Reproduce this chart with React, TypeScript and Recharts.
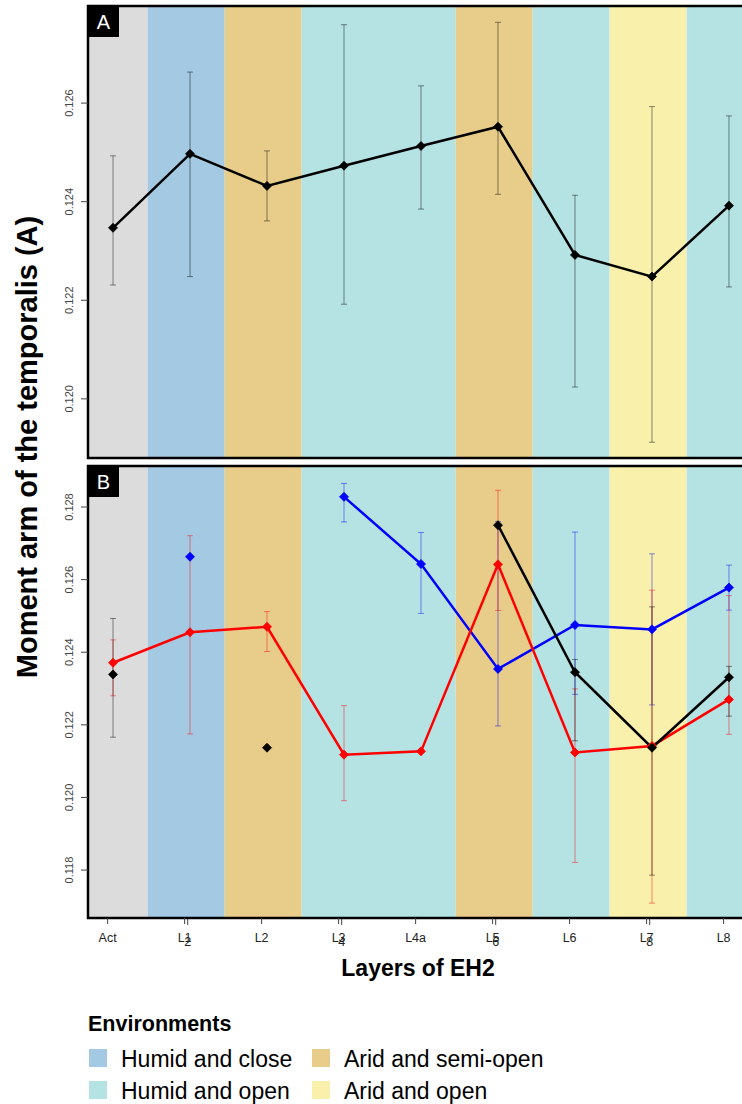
import React from "react";
import { ComposedChart, Line, XAxis, YAxis, ReferenceArea, ErrorBar } from "recharts";

const FONT = "'Liberation Sans', Arial, Helvetica, sans-serif";

const layers = ["Act", "L1", "L2", "L3", "L4a", "L5", "L6", "L7", "L8"];
// the second set of tick numbers printed over the odd layers
const extraTickLabels = ["2", "4", "6", "8"];
const extraTickSlots = [1, 3, 5, 7];

// environment of each layer (background bands)
const layerEnv = ["none", "humidClose", "aridSemi", "humidOpen", "humidOpen", "aridSemi", "humidOpen", "aridOpen", "humidOpen"];

// Panel A : whole sample
const meanA = [0.12347, 0.12497, 0.12432, 0.12473, 0.12513, 0.12552, 0.12292, 0.12248, 0.12392];
const lowA = [0.12231, 0.12248, 0.12361, 0.12192, 0.12385, 0.12415, 0.12024, 0.11912, 0.12227];
const highA = [0.12493, 0.12663, 0.12503, 0.12759, 0.12635, 0.12764, 0.12413, 0.12593, 0.12574];

// Panel B : three groups
const redMean = [0.12371, 0.12455, 0.1247, 0.12118, 0.12127, 0.12642, 0.12124, 0.12142, 0.1227];
const redLow = [0.1228, 0.12175, 0.12402, 0.11991, null, 0.12515, 0.11821, 0.11709, 0.12174];
const redHigh = [0.12434, 0.12721, 0.12512, 0.12253, null, 0.12846, 0.12299, 0.12571, 0.12556];

const blueMean = [null, 0.12663, null, 0.12828, 0.12643, 0.12354, 0.12475, 0.12463, 0.12578];
const blueLow = [null, null, null, 0.12759, 0.12507, 0.12197, 0.12284, 0.12255, 0.12516];
const blueHigh = [null, null, null, 0.12865, 0.1273, 0.1276, 0.12731, 0.12671, 0.1264];

const blackMean = [0.12339, null, 0.12137, null, null, 0.1275, 0.12345, 0.12137, 0.12331];
const blackLow = [0.12166, null, null, null, null, null, 0.12156, 0.11786, 0.12224];
const blackHigh = [0.12493, null, null, null, null, null, 0.1238, 0.12525, 0.12361];

const ticksA = [0.12, 0.122, 0.124, 0.126];
const ticksB = [0.118, 0.12, 0.122, 0.124, 0.126, 0.128];

const X_MIN = -0.325;
const X_MAX = 8.247;
const domainA: [number, number] = [0.1188, 0.12797];
const domainB: [number, number] = [0.11668, 0.12913];

const envColors: Record<string, string> = {
  none: "#DCDCDC",
  humidClose: "#A4C9E3",
  aridSemi: "#E8CD8A",
  humidOpen: "#B5E2E3",
  aridOpen: "#F8F0AB",
};

const legendItems = [
  { key: "humidClose", label: "Humid and close" },
  { key: "aridSemi", label: "Arid and semi-open" },
  { key: "humidOpen", label: "Humid and open" },
  { key: "aridOpen", label: "Arid and open" },
];

function errOf(mean: number | null, low: number | null, high: number | null) {
  if (mean == null || low == null || high == null) return null;
  return [mean - low, high - mean];
}

const rowsA = layers.map((name, i) => ({
  x: i,
  name,
  mean: meanA[i],
  err: errOf(meanA[i], lowA[i], highA[i]),
}));

const rowsB = layers.map((name, i) => ({
  x: i,
  name,
  red: redMean[i],
  redErr: errOf(redMean[i], redLow[i], redHigh[i]),
  blue: blueMean[i],
  blueErr: errOf(blueMean[i], blueLow[i], blueHigh[i]),
  black: blackMean[i],
  blackErr: errOf(blackMean[i], blackLow[i], blackHigh[i]),
}));

// merge neighbouring layers with the same environment into one band
const bands: { env: string; from: number; to: number }[] = [];
layerEnv.forEach((env, i) => {
  const last = bands[bands.length - 1];
  if (last && last.env === env) last.to = i + 0.45;
  else bands.push({ env, from: Math.max(X_MIN, i - 0.55), to: i + 0.45 });
});
bands[bands.length - 1].to = X_MAX;

const diamondDot = (color: string, r: number) => (props: any) => {
  const { cx, cy, value, index } = props;
  if (cx == null || cy == null || value == null) return <g key={`d-${index}`} />;
  return (
    <polygon
      key={`d-${index}`}
      points={`${cx},${cy - r} ${cx + r},${cy} ${cx},${cy + r} ${cx - r},${cy}`}
      fill={color}
      stroke={color}
      strokeWidth={0.8}
    />
  );
};

const YTick = (props: any) => {
  const { x, y, payload } = props;
  const tx = x - 6;
  return (
    <text x={tx} y={y} transform={`rotate(-90 ${tx} ${y})`} textAnchor="middle" fontSize={11} fill="#444" fontFamily={FONT}>
      {payload.value.toFixed(3)}
    </text>
  );
};

const XTick = (props: any) => {
  const { x, y, payload } = props;
  return (
    <text x={x} y={y + 16} textAnchor="middle" fontSize={12.5} fill="#222" fontFamily={FONT}>
      {layers[Math.round(payload.value)]}
    </text>
  );
};

const ExtraTick = (props: any) => {
  const { x, y, payload } = props;
  const k = extraTickSlots.indexOf(Math.round(payload.value));
  return (
    <text x={x} y={y + 19} textAnchor="middle" fontSize={12.5} fill="#222" fontFamily={FONT}>
      {extraTickLabels[k]}
    </text>
  );
};

function backgroundBands(domain: [number, number]) {
  return bands.map((b, i) => (
    <ReferenceArea
      key={`band-${i}`}
      x1={b.from}
      x2={b.to}
      y1={domain[0]}
      y2={domain[1]}
      fill={envColors[b.env]}
      fillOpacity={1}
      stroke="none"
      ifOverflow="visible"
    />
  ));
}

function frame(domain: [number, number]) {
  return (
    <ReferenceArea
      x1={X_MIN}
      x2={X_MAX}
      y1={domain[0]}
      y2={domain[1]}
      fill="none"
      stroke="#000"
      strokeWidth={2.5}
      ifOverflow="visible"
    />
  );
}

export default function App() {
  return (
    <div
      style={{
        position: "absolute",
        left: 0,
        top: 0,
        width: 742,
        height: 1104,
        overflow: "hidden",
        background: "#fff",
        fontFamily: FONT,
      }}
    >
      <div style={{ position: "absolute", left: 0, top: 0 }}>
        <ComposedChart width={760} height={464} data={rowsA} margin={{ top: 6, right: 12, bottom: 6, left: 0 }}>
          <XAxis type="number" dataKey="x" domain={[X_MIN, X_MAX]} allowDataOverflow hide />
          <YAxis
            type="number"
            domain={domainA}
            ticks={ticksA}
            allowDataOverflow
            width={88}
            axisLine={false}
            tickSize={7}
            tickMargin={2}
            tickLine={{ stroke: "#444" }}
            tick={<YTick />}
          />
          {backgroundBands(domainA)}
          {frame(domainA)}
          <Line
            dataKey="mean"
            stroke="#000"
            strokeWidth={2.5}
            dot={diamondDot("#000", 4.5)}
            activeDot={false}
            isAnimationActive={false}
          >
            <ErrorBar dataKey="err" width={3} stroke="rgba(0,0,0,0.45)" strokeWidth={1} isAnimationActive={false} />
          </Line>
        </ComposedChart>
      </div>

      <div style={{ position: "absolute", left: 0, top: 460 }}>
        <ComposedChart width={760} height={530} data={rowsB} margin={{ top: 6, right: 12, bottom: 70, left: 0 }}>
          <XAxis
            type="number"
            dataKey="x"
            domain={[X_MIN, X_MAX]}
            allowDataOverflow
            ticks={layers.map((_, i) => i - 0.07)}
            interval={0}
            height={1}
            axisLine={false}
            tickSize={6}
            tickLine={{ stroke: "#444" }}
            tick={<XTick />}
            label={{
              value: "Layers of EH2",
              position: "bottom",
              offset: 41,
              fontSize: 23,
              fontWeight: "bold",
              fill: "#000",
              fontFamily: FONT,
            }}
          />
          <XAxis
            xAxisId="extra"
            type="number"
            dataKey="x"
            domain={[X_MIN, X_MAX]}
            allowDataOverflow
            ticks={extraTickSlots.map((i) => i - 0.03)}
            interval={0}
            height={1}
            axisLine={false}
            tickSize={6}
            tickLine={{ stroke: "#444" }}
            tick={<ExtraTick />}
          />
          <YAxis
            type="number"
            domain={domainB}
            ticks={ticksB}
            allowDataOverflow
            width={88}
            axisLine={false}
            tickSize={7}
            tickMargin={2}
            tickLine={{ stroke: "#444" }}
            tick={<YTick />}
          />
          {backgroundBands(domainB)}
          {frame(domainB)}
          <Line
            dataKey="blue"
            stroke="#0000FF"
            strokeWidth={2.5}
            dot={diamondDot("#0000FF", 4.5)}
            activeDot={false}
            connectNulls={false}
            isAnimationActive={false}
          >
            <ErrorBar dataKey="blueErr" width={3} stroke="rgba(0,0,255,0.45)" strokeWidth={1} isAnimationActive={false} />
          </Line>
          <Line
            dataKey="red"
            stroke="#FF0000"
            strokeWidth={2.5}
            dot={diamondDot("#FF0000", 4.5)}
            activeDot={false}
            connectNulls={false}
            isAnimationActive={false}
          >
            <ErrorBar dataKey="redErr" width={3} stroke="rgba(255,0,0,0.45)" strokeWidth={1} isAnimationActive={false} />
          </Line>
          <Line
            dataKey="black"
            stroke="#000"
            strokeWidth={2.5}
            dot={diamondDot("#000", 4.5)}
            activeDot={false}
            connectNulls={false}
            isAnimationActive={false}
          >
            <ErrorBar dataKey="blackErr" width={3} stroke="rgba(0,0,0,0.45)" strokeWidth={1} isAnimationActive={false} />
          </Line>
        </ComposedChart>
      </div>

      <svg width={742} height={1104} style={{ position: "absolute", left: 0, top: 0, pointerEvents: "none" }}>
        <text
          x={37}
          y={447}
          transform="rotate(-90 37 447)"
          textAnchor="middle"
          fontSize={29}
          fontWeight="bold"
          fill="#000"
          fontFamily={FONT}
        >
          Moment arm of the temporalis (A)
        </text>

        <rect x={88} y={6} width={31} height={31} fill="#000" />
        <text x={103.5} y={29} textAnchor="middle" fontSize={20} fill="#fff" fontFamily={FONT}>
          A
        </text>
        <rect x={88} y={466} width={31} height={31} fill="#000" />
        <text x={103.5} y={489} textAnchor="middle" fontSize={20} fill="#fff" fontFamily={FONT}>
          B
        </text>

        <text x={88} y={1031} fontSize={21.5} fontWeight="bold" fill="#000" fontFamily={FONT}>
          Environments
        </text>
        {legendItems.map((item, i) => {
          const col = i % 2;
          const row = Math.floor(i / 2);
          const sx = col === 0 ? 89 : 312;
          const sy = row === 0 ? 1049 : 1081;
          return (
            <g key={item.key}>
              <rect x={sx} y={sy} width={18} height={18} fill={envColors[item.key]} />
              <text x={sx + 32} y={sy + 18} fontSize={23} fill="#000" fontFamily={FONT}>
                {item.label}
              </text>
            </g>
          );
        })}
      </svg>
    </div>
  );
}
